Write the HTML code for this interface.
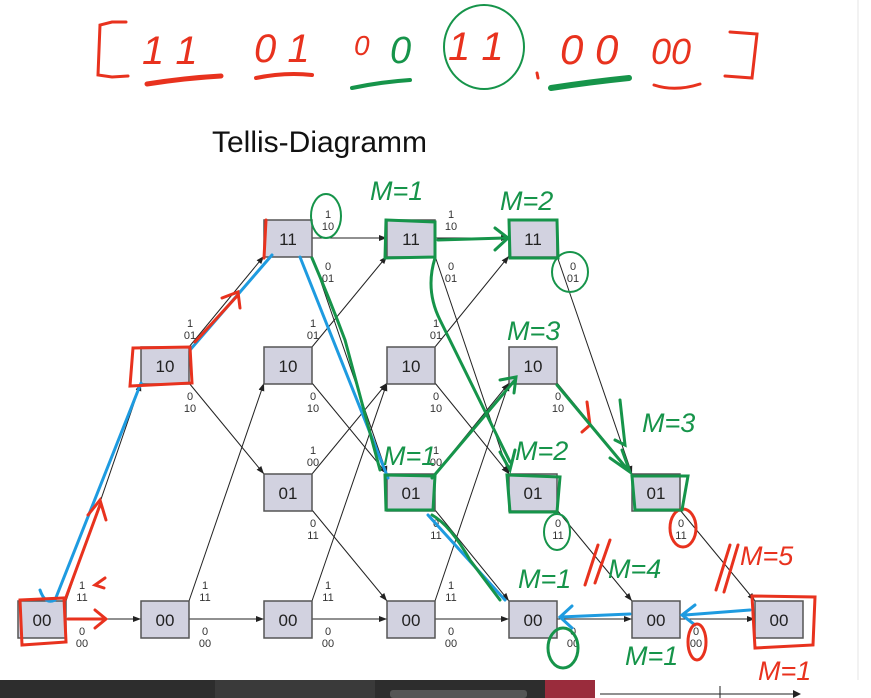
<!DOCTYPE html>
<html><head><meta charset="utf-8"><style>
html,body{margin:0;padding:0;background:#fff;}
svg{display:block;}
.n rect{fill:#d2d2e0;stroke:#555;stroke-width:1.5;}
.n text{font-family:"Liberation Sans",sans-serif;font-size:17px;fill:#222;text-anchor:middle;}
.fr{font-family:"Liberation Sans",sans-serif;font-size:11px;fill:#333;text-anchor:middle;}
.hw{font-family:"Liberation Sans",sans-serif;font-style:italic;font-size:27px;}
</style></head><body>
<svg width="871" height="698" viewBox="0 0 871 698" xmlns="http://www.w3.org/2000/svg">
<defs><marker id="a" markerWidth="8" markerHeight="6" refX="8" refY="3" orient="auto"><path d="M0,0L8,3L0,6z" fill="#222"/></marker></defs>
<line x1="858" y1="0" x2="858" y2="680" stroke="#e4e4e4" stroke-width="1"/>
<!-- top sequence -->
<g fill="none" stroke="#e8321e" stroke-width="3" stroke-linecap="round">
<path d="M126,22 L112,22 L100,25 L98,75 L112,77 L128,76"/>
<path d="M730,32 L757,34 L752,78 L725,76"/>
<path d="M147,84 Q185,78 221,76" stroke-width="5"/>
<path d="M256,78 Q285,72 312,75" stroke-width="4"/>
<path d="M654,85 Q675,92 700,84"/>
<path d="M537,73 L538,78"/>
</g>
<g fill="none" stroke="#16944a" stroke-width="4" stroke-linecap="round">
<path d="M352,88 Q380,82 410,80"/>
<path d="M551,88 Q590,82 629,78" stroke-width="6"/>
<ellipse cx="484" cy="47" rx="40" ry="42" stroke-width="2"/>
</g>
<text class="hw" x="142" y="64" fill="#e8321e" style="font-size:40px">1 1</text>
<text class="hw" x="254" y="62" fill="#e8321e" style="font-size:40px">0 1</text>
<text class="hw" x="354" y="55" fill="#e8321e" style="font-size:28px">0</text>
<text class="hw" x="390" y="63" fill="#16944a" style="font-size:38px">0</text>
<text class="hw" x="448" y="60" fill="#e8321e" style="font-size:40px">1 1</text>
<text class="hw" x="560" y="64" fill="#e8321e" style="font-size:42px">0 0</text>
<text class="hw" x="651" y="64" fill="#e8321e" style="font-size:36px">00</text>
<text x="212" y="152" font-family="Liberation Sans,sans-serif" font-size="30" fill="#111">Tellis-Diagramm</text>
<!-- edges -->
<g stroke="#222" stroke-width="1" marker-end="url(#a)">
<line x1="66" y1="619" x2="141" y2="619"/><line x1="66" y1="601" x2="141" y2="383"/>
<line x1="189" y1="347" x2="264" y2="256"/><line x1="189" y1="383" x2="264" y2="474"/>
<line x1="189" y1="619" x2="264" y2="619"/><line x1="189" y1="601" x2="264" y2="383"/>
<line x1="312" y1="238" x2="387" y2="238"/><line x1="312" y1="256" x2="387" y2="474"/>
<line x1="312" y1="347" x2="387" y2="256"/><line x1="312" y1="383" x2="387" y2="474"/>
<line x1="312" y1="474" x2="387" y2="383"/><line x1="312" y1="510" x2="387" y2="601"/>
<line x1="312" y1="601" x2="387" y2="383"/><line x1="312" y1="619" x2="387" y2="619"/>
<line x1="435" y1="238" x2="509" y2="238"/><line x1="435" y1="256" x2="509" y2="474"/>
<line x1="435" y1="347" x2="509" y2="256"/><line x1="435" y1="383" x2="509" y2="474"/>
<line x1="435" y1="474" x2="509" y2="383"/><line x1="435" y1="510" x2="509" y2="601"/>
<line x1="435" y1="601" x2="509" y2="383"/><line x1="435" y1="619" x2="509" y2="619"/>
<line x1="557" y1="256" x2="632" y2="474"/><line x1="557" y1="383" x2="632" y2="474"/>
<line x1="557" y1="510" x2="632" y2="601"/><line x1="557" y1="619" x2="632" y2="619"/>
<line x1="680" y1="510" x2="755" y2="601"/><line x1="680" y1="619" x2="755" y2="619"/>
</g>
<!-- nodes -->
<g class="n">
<rect x="18" y="601" width="48" height="37"/><text x="42" y="626">00</text>
<rect x="141" y="347" width="48" height="37"/><text x="165" y="372">10</text>
<rect x="141" y="601" width="48" height="37"/><text x="165" y="626">00</text>
<rect x="264" y="220" width="48" height="37"/><text x="288" y="245">11</text>
<rect x="264" y="347" width="48" height="37"/><text x="288" y="372">10</text>
<rect x="264" y="474" width="48" height="37"/><text x="288" y="499">01</text>
<rect x="264" y="601" width="48" height="37"/><text x="288" y="626">00</text>
<rect x="387" y="220" width="48" height="37"/><text x="411" y="245">11</text>
<rect x="387" y="347" width="48" height="37"/><text x="411" y="372">10</text>
<rect x="387" y="474" width="48" height="37"/><text x="411" y="499">01</text>
<rect x="387" y="601" width="48" height="37"/><text x="411" y="626">00</text>
<rect x="509" y="220" width="48" height="37"/><text x="533" y="245">11</text>
<rect x="509" y="347" width="48" height="37"/><text x="533" y="372">10</text>
<rect x="509" y="474" width="48" height="37"/><text x="533" y="499">01</text>
<rect x="509" y="601" width="48" height="37"/><text x="533" y="626">00</text>
<rect x="632" y="474" width="48" height="37"/><text x="656" y="499">01</text>
<rect x="632" y="601" width="48" height="37"/><text x="656" y="626">00</text>
<rect x="755" y="601" width="48" height="37"/><text x="779" y="626">00</text>
</g>
<!-- fraction labels -->
<g class="fr">
<text x="82" y="589">1</text><text x="82" y="601">11</text>
<text x="82" y="635">0</text><text x="82" y="647">00</text>
<text x="190" y="327">1</text><text x="190" y="339">01</text>
<text x="190" y="400">0</text><text x="190" y="412">10</text>
<text x="205" y="589">1</text><text x="205" y="601">11</text>
<text x="205" y="635">0</text><text x="205" y="647">00</text>
<text x="328" y="218">1</text><text x="328" y="230">10</text>
<text x="328" y="270">0</text><text x="328" y="282">01</text>
<text x="313" y="327">1</text><text x="313" y="339">01</text>
<text x="313" y="400">0</text><text x="313" y="412">10</text>
<text x="313" y="454">1</text><text x="313" y="466">00</text>
<text x="313" y="527">0</text><text x="313" y="539">11</text>
<text x="328" y="589">1</text><text x="328" y="601">11</text>
<text x="328" y="635">0</text><text x="328" y="647">00</text>
<text x="451" y="218">1</text><text x="451" y="230">10</text>
<text x="451" y="270">0</text><text x="451" y="282">01</text>
<text x="436" y="327">1</text><text x="436" y="339">01</text>
<text x="436" y="400">0</text><text x="436" y="412">10</text>
<text x="436" y="454">1</text><text x="436" y="466">00</text>
<text x="436" y="527">0</text><text x="436" y="539">11</text>
<text x="451" y="589">1</text><text x="451" y="601">11</text>
<text x="451" y="635">0</text><text x="451" y="647">00</text>
<text x="573" y="270">0</text><text x="573" y="282">01</text>
<text x="558" y="400">0</text><text x="558" y="412">10</text>
<text x="558" y="527">0</text><text x="558" y="539">11</text>
<text x="573" y="635">0</text><text x="573" y="647">00</text>
<text x="681" y="527">0</text><text x="681" y="539">11</text>
<text x="696" y="635">0</text><text x="696" y="647">00</text>
</g>
<!-- blue path -->
<g fill="none" stroke="#1e9be0" stroke-width="3" stroke-linecap="round">
<path d="M40,590 Q45,605 55,600 L141,383"/>
<path d="M190,350 L272,255"/>
<path d="M300,257 L388,478"/>
<path d="M428,515 L505,600"/>
<path d="M750,610 L685,615 M695,605 L682,615 L695,625"/>
<path d="M630,614 L560,617 M572,606 L560,617 L572,628"/>
</g>
<!-- red annotations -->
<g fill="none" stroke="#e8321e" stroke-width="3" stroke-linecap="round">
<path d="M20,600 L64,598 L66,642 L22,645 Z"/>
<path d="M65,600 L100,505 M88,515 L100,500 L106,520"/>
<path d="M68,619 L105,619 M95,610 L106,619 L95,628"/>
<path d="M105,578 L95,585 L104,588"/>
<path d="M133,348 L190,347 L192,383 L130,386 Z"/>
<path d="M195,342 L238,295 M222,298 L238,292 L240,308"/>
<path d="M266,220 L264,258"/>
<path d="M587,402 L590,425 L582,432"/>
<path d="M598,545 L585,585 M610,540 L595,583"/>
<path d="M730,545 L716,590 M738,545 L724,592"/>
<ellipse cx="683" cy="528" rx="13" ry="19"/>
<ellipse cx="697" cy="642" rx="9" ry="18"/>
<path d="M752,596 L815,597 L813,645 L755,648 Z"/>
</g>
<text class="hw" x="758" y="680" fill="#e8321e">M=1</text>
<!-- green annotations -->
<g fill="none" stroke="#16944a" stroke-width="3" stroke-linecap="round">
<ellipse cx="326" cy="216" rx="15" ry="22" stroke-width="2"/>
<ellipse cx="570" cy="272" rx="18" ry="20" stroke-width="2"/>
<ellipse cx="557" cy="532" rx="13" ry="18" stroke-width="2"/>
<ellipse cx="563" cy="648" rx="15" ry="20"/>
<path d="M386,220 L435,222 L435,257 L385,258 Z"/>
<path d="M509,220 L557,220 L558,258 L510,258 Z"/>
<path d="M385,475 L435,476 L433,510 L386,510 Z"/>
<path d="M507,475 L560,477 L557,512 L510,512 Z"/>
<path d="M632,476 L688,476 L682,510 L635,510 Z"/>
<path d="M438,240 L505,238 M495,228 L508,238 L495,250"/>
<path d="M435,258 Q425,290 440,320 L510,462 M500,452 L510,470 L515,450"/>
<path d="M312,258 Q330,300 345,340 L380,470"/>
<path d="M432,478 L515,380 M500,380 L516,377 L514,393"/>
<path d="M557,385 L628,470 M610,458 L630,472 L622,450"/>
<path d="M432,515 Q450,525 470,560 L500,600"/>
<path d="M620,400 L625,445 L615,440"/>
</g>
<g class="hw" fill="#16944a">
<text x="370" y="200">M=1</text>
<text x="500" y="210">M=2</text>
<text x="507" y="340">M=3</text>
<text x="515" y="460">M=2</text>
<text x="642" y="432">M=3</text>
<text x="383" y="465">M=1</text>
<text x="518" y="588">M=1</text>
<text x="608" y="578">M=4</text>
<text x="740" y="565" fill="#e8321e">M=5</text>
<text x="625" y="665">M=1</text>
</g>
<!-- bottom bar -->
<rect x="0" y="680" width="545" height="18" fill="#2d2d2d"/>
<rect x="215" y="680" width="160" height="18" fill="#3a3a3a"/>
<rect x="390" y="690" width="137" height="8" fill="#555" rx="3"/>
<rect x="545" y="680" width="50" height="18" fill="#9a2c3c"/>
<line x1="600" y1="694" x2="800" y2="694" stroke="#222" stroke-width="1"/>
<line x1="720" y1="686" x2="720" y2="698" stroke="#222"/>
<path d="M793,690 L801,694 L793,698" fill="#222"/>
</svg>
</body></html>
